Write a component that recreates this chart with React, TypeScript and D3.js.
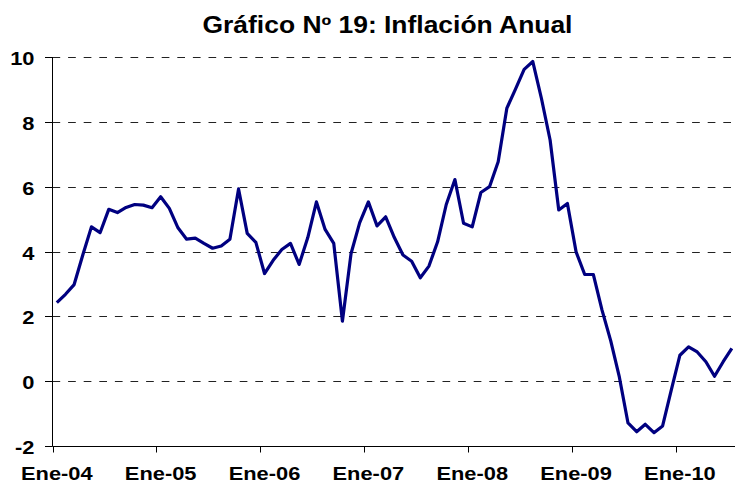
import React, { useRef, useEffect } from 'react';
import * as d3 from 'd3';

// Inflación anual (%), mensual desde Ene-04
const inflation2004 = [2.42, 2.68, 2.98, 3.89, 4.76, 4.58, 5.3, 5.2, 5.36, 5.45, 5.43, 5.35];
const inflation2005 = [5.69, 5.33, 4.73, 4.38, 4.41, 4.25, 4.1, 4.17, 4.38, 5.93, 4.56, 4.28];
const inflation2006 = [3.32, 3.73, 4.06, 4.25, 3.6, 4.43, 5.53, 4.68, 4.25, 1.85, 3.94, 4.89];
const inflation2007 = [5.53, 4.79, 5.07, 4.43, 3.89, 3.7, 3.19, 3.55, 4.3, 5.45, 6.22, 4.87];
const inflation2008 = [4.76, 5.82, 6.0, 6.77, 8.42, 9.01, 9.62, 9.86, 8.72, 7.44, 5.28, 5.48];
const inflation2009 = [3.99, 3.29, 3.29, 2.19, 1.25, 0.13, -1.29, -1.56, -1.33, -1.59, -1.38, -0.28];
const inflation2010 = [0.8, 1.06, 0.9, 0.6, 0.15, 0.6, 1.01];

const yearLabels = ['Ene-04', 'Ene-05', 'Ene-06', 'Ene-07', 'Ene-08', 'Ene-09', 'Ene-10'];
const yTicks = [-2, 0, 2, 4, 6, 8, 10];
const title = 'Gráfico Nº 19: Inflación Anual';

const values = [
  ...inflation2004, ...inflation2005, ...inflation2006, ...inflation2007,
  ...inflation2008, ...inflation2009, ...inflation2010,
];

const InflationChart = ({ width = 735, height = 483 }) => {
  const ref = useRef<SVGSVGElement>(null);

  useEffect(() => {
    const svg = d3.select(ref.current);
    svg.selectAll('*').remove();

    const font = '"Liberation Sans", Arial, sans-serif';
    const sx = 1.15; // text in the original is a bit wide

    const left = 52.5;
    const step = 8.654;
    const months = d3.range(values.length);
    const x = d3.scaleBand<number>().domain(months).range([left, left + step * months.length]);
    const y = d3.scaleLinear().domain([-2, 10]).range([446, 57]);
    const cx = (i: number) => (x(i) as number) + x.bandwidth() / 2;

    // Title
    svg.append('text')
      .attr('transform', `translate(387.5,33) scale(${sx},1)`)
      .attr('text-anchor', 'middle')
      .attr('font-family', font)
      .attr('font-weight', 'bold')
      .attr('font-size', 23)
      .text(title);

    // Gridlines
    svg.append('g')
      .selectAll('line')
      .data(yTicks.filter(d => d !== -2))
      .enter()
      .append('line')
      .attr('x1', left)
      .attr('x2', width)
      .attr('y1', d => Math.round(y(d)) + 0.5)
      .attr('y2', d => Math.round(y(d)) + 0.5)
      .attr('stroke', '#222')
      .attr('stroke-width', 1)
      .attr('stroke-dasharray', '7.7,7.9');

    // Y axis
    const yAxis = svg.append('g');
    yAxis.append('line')
      .attr('x1', left).attr('x2', left)
      .attr('y1', y(10)).attr('y2', Math.round(y(-2)) + 0.5)
      .attr('stroke', '#000');
    yTicks.forEach(t => {
      const ty = Math.round(y(t)) + 0.5;
      yAxis.append('line')
        .attr('x1', 45).attr('x2', left)
        .attr('y1', ty).attr('y2', ty)
        .attr('stroke', '#000');
      yAxis.append('text')
        .attr('transform', `translate(34.5,${ty + 7}) scale(${sx},1)`)
        .attr('text-anchor', 'end')
        .attr('font-family', font)
        .attr('font-weight', 'bold')
        .attr('font-size', 19)
        .text(t);
    });

    // X axis
    const xAxis = svg.append('g');
    const axisY = Math.round(y(-2)) + 0.5;
    xAxis.append('line')
      .attr('x1', left).attr('x2', width)
      .attr('y1', axisY).attr('y2', axisY)
      .attr('stroke', '#000');
    yearLabels.forEach((label, k) => {
      const i = k * 12;
      const tx = Math.round(x(i) as number) + 0.5;
      xAxis.append('line')
        .attr('x1', tx).attr('x2', tx)
        .attr('y1', axisY).attr('y2', axisY + 6)
        .attr('stroke', '#000');
      xAxis.append('text')
        .attr('transform', `translate(${cx(i)},480) scale(${sx},1)`)
        .attr('text-anchor', 'middle')
        .attr('font-family', font)
        .attr('font-weight', 'bold')
        .attr('font-size', 19)
        .text(label);
    });

    // Series
    const line = d3.line<number>()
      .x((_, i) => cx(i))
      .y(d => y(d));

    svg.append('path')
      .datum(values)
      .attr('fill', 'none')
      .attr('stroke', '#000080')
      .attr('stroke-width', 3.2)
      .attr('stroke-linejoin', 'round')
      .attr('d', line);
  }, [width, height]);

  return <svg ref={ref} width={width} height={height} style={{ display: 'block' }} />;
};

export default function App() {
  return (
    <div style={{ position: 'fixed', left: 0, top: 0, background: '#fff' }}>
      <InflationChart />
    </div>
  );
}
